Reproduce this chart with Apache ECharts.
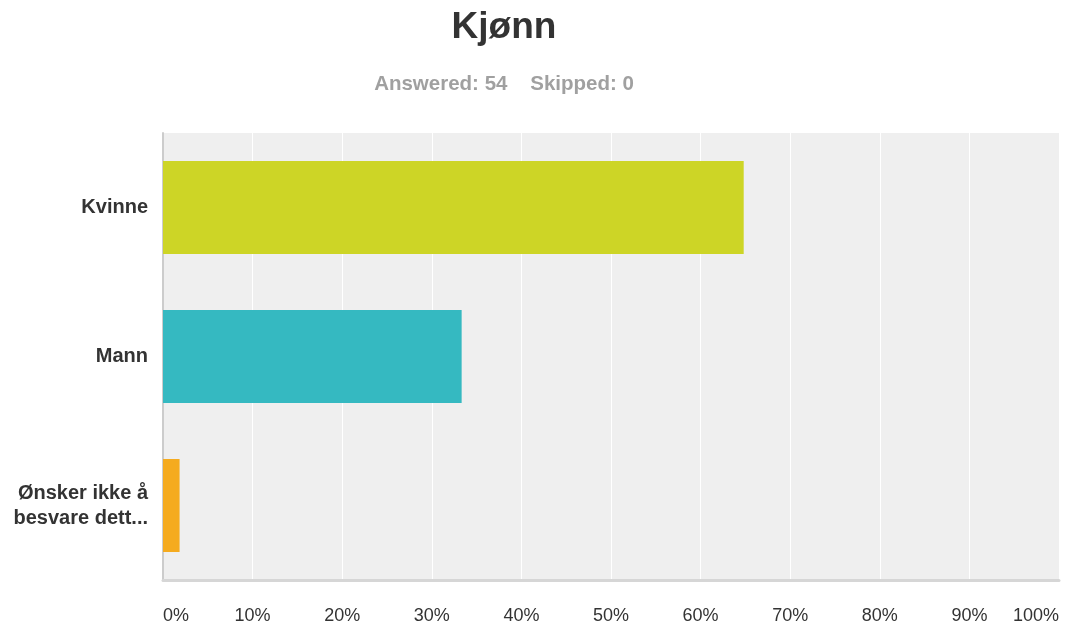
<!DOCTYPE html>
<html><head><meta charset="utf-8">
<script src="https://cdn.jsdelivr.net/npm/echarts@6/dist/echarts.min.js"></script>
<style>html,body{margin:0;padding:0;background:#fff}#c{width:1067px;height:629px}</style>
</head><body><div id="c"></div>
<script>
const categories = ['Kvinne', 'Mann', 'Ønsker ikke å\nbesvare dett...'];
const values = [64.81, 33.33, 1.85];
const colors = ['#cdd526', '#35b9c1', '#f5ab1f'];
const tickLabels = ['0%','10%','20%','30%','40%','50%','60%','70%','80%','90%','100%'];

const chart = echarts.init(document.getElementById('c'), null, {renderer: 'canvas'});
chart.setOption({
  animation: false,
  backgroundColor: '#fff',
  title: {
    text: 'Kjønn',
    subtext: 'Answered: 54    Skipped: 0',
    left: 499, textAlign: 'center', top: 4,
    itemGap: 28,
    textStyle: {fontFamily: 'Liberation Sans, Arial, sans-serif', fontSize: 37, fontWeight: 'bold', color: '#333'},
    subtextStyle: {fontFamily: 'Liberation Sans, Arial, sans-serif', fontSize: 20.5, fontWeight: 'bold', color: '#a0a0a0'}
  },
  grid: {left: 163, right: 8, top: 133, bottom: 49, show: true, backgroundColor: '#efefef', borderWidth: 0},
  xAxis: {
    type: 'value', min: 0, max: 100, interval: 10,
    axisLine: {show: true, lineStyle: {color: '#d6d6d6', width: 3}},
    axisTick: {show: false},
    splitLine: {show: true, lineStyle: {color: '#ffffff', width: 1}},
    axisLabel: {
      margin: 27, color: '#333', fontSize: 18, fontFamily: 'Liberation Sans, Arial, sans-serif',
      alignMinLabel: 'left', alignMaxLabel: 'right',
      formatter: v => tickLabels[Math.round(v / 10)]
    }
  },
  yAxis: {
    type: 'category', data: categories, inverse: true,
    axisLine: {show: true, lineStyle: {color: '#cccccc', width: 2}},
    axisTick: {show: false},
    splitLine: {show: false},
    axisLabel: {margin: 15, color: '#333', fontSize: 20, fontWeight: 'bold', lineHeight: 25, align: 'right', padding: [4, 0, 0, 0], fontFamily: 'Liberation Sans, Arial, sans-serif'}
  },
  series: [{
    type: 'bar',
    data: values.map((v, i) => ({value: v, itemStyle: {color: colors[i]}})),
    barCategoryGap: '37.5%'
  }]
});
</script></body></html>
